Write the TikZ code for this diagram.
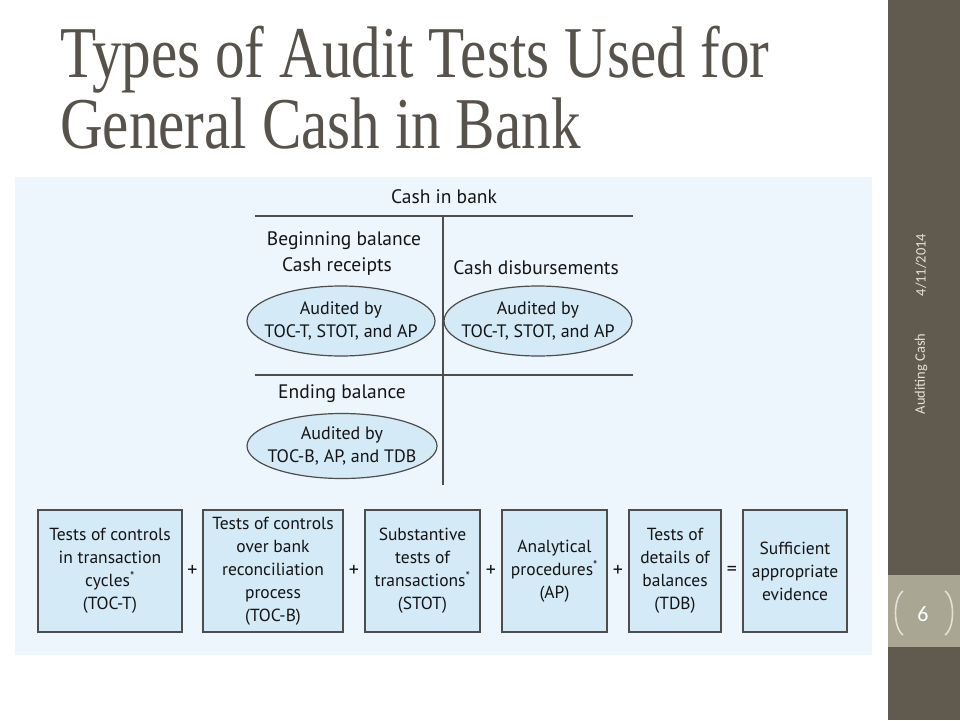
\documentclass[tikz,border=0pt]{standalone}
\usepackage{fontspec}
\setsansfont{PT Sans}
\newfontfamily\titlefont[FakeStretch=0.81]{Liberation Serif}
\newfontfamily\sidefont{Carlito}
\usetikzlibrary{shapes.geometric,positioning,calc}
\definecolor{SlideText}{HTML}{57534C}
\definecolor{SideDark}{HTML}{615B4F}
\definecolor{SideLight}{HTML}{A9A694}
\definecolor{SideInk}{HTML}{E4E0D4}
\definecolor{PanelBlue}{HTML}{EEF6FD}
\definecolor{BoxBlue}{HTML}{D4EAF6}
\definecolor{RuleGray}{HTML}{4D4D4D}
\newcommand\starmark{\textsuperscript{*}}

\begin{document}
\begin{tikzpicture}[x=1pt, y=-1pt,
  every node/.style={font=\sffamily\fontsize{17.5}{23}\selectfont, text=black!92, align=center, inner sep=0pt},
  acctlabel/.style={font=\sffamily\fontsize{19.5}{23}\selectfont},
  testbox/.style={draw=RuleGray, line width=1.4pt, fill=BoxBlue, minimum height=122pt},
  oval/.style={ellipse, font=\sffamily\fontsize{18}{23}\selectfont, draw=RuleGray, line width=1.2pt, fill=BoxBlue, inner xsep=-16pt, inner ysep=0pt, minimum width=188pt, minimum height=70pt},
  op/.style={font=\sffamily\fontsize{20}{20}\selectfont},
  tline/.style={RuleGray, line width=2pt}]
\useasboundingbox (0,0) rectangle (960,720);
\fill[white] (0,0) rectangle (960,720);
% side bar
\fill[SideDark] (888,0) rectangle (960,720);
\fill[SideLight] (888,575) rectangle (960,647);
\node[rotate=90, font=\sidefont\fontsize{14.5}{14.5}\selectfont, text=SideInk] (date) at (921,265) {4/11/2014};
\node[rotate=90, font=\sidefont\fontsize{14.5}{14.5}\selectfont, text=SideInk] (footer) at (921,374) {Auditing Cash};
\node[font=\sidefont\fontsize{22}{22}\selectfont, text=white] (pagenum) at (923,614) {6};
\draw[SideInk, line width=1.6pt] (903,591) .. controls (893,598) and (893,628) .. (903,635);
\draw[SideInk, line width=1.6pt] (945,591) .. controls (955,598) and (955,628) .. (945,635);
% title
\node[anchor=base west, font=\titlefont\fontsize{73}{71}\selectfont, text=SlideText] (title1) at (60,77) {Types of Audit Tests Used for};
\node[anchor=base west, font=\titlefont\fontsize{73}{71}\selectfont, text=SlideText] (title2) at (60,148) {General Cash in Bank};
% figure panel
\fill[PanelBlue] (15,177) rectangle (872,655);
% T-account
\node[acctlabel] (acct) at (444,197) {Cash in bank};
\draw[tline] (255,216) -- (633,216);
\draw[tline] (255,375) -- (633,375);
\draw[RuleGray, line width=1.3pt] (443,216) -- (443,485);
\node[acctlabel] (begbal) at (344,241) {Beginning balance};
\node[acctlabel] (receipts) at (337,267) {Cash receipts};
\node[acctlabel] (disburse) at (536,268) {Cash disbursements};
\node[acctlabel] (endbal) at (342,394) {Ending balance};
\node[oval] (audrec) at (341,321) {Audited by\\TOC-T, STOT, and AP};
\node[oval] (auddis) at (538,321) {Audited by\\TOC-T, STOT, and AP};
\node[oval, minimum width=190pt, minimum height=65pt] (audend) at (342,446) {Audited by\\TOC-B, AP, and TDB};
% tests
\node[testbox, minimum width=144pt] (toct) at (110,571) {Tests of controls\\in transaction\\cycles\starmark\\(TOC-T)};
\node[testbox, minimum width=140pt] (tocb) at (273,571) {Tests of controls\\over bank\\reconciliation\\process\\(TOC-B)};
\node[testbox, minimum width=115pt] (stot) at (422.5,571) {Substantive\\tests of\\transactions\starmark\\(STOT)};
\node[testbox, minimum width=105pt] (ap) at (554.5,571) {Analytical\\procedures\starmark\\(AP)};
\node[testbox, minimum width=92pt] (tdb) at (675,571) {Tests of\\details of\\balances\\(TDB)};
\node[testbox, minimum width=104pt] (evid) at (795,571) {Sufficient\\appropriate\\evidence};
\node[op] (plus1) at ($(toct.east)!0.5!(tocb.west)$) {+};
\node[op] (plus2) at ($(tocb.east)!0.5!(stot.west)$) {+};
\node[op] (plus3) at ($(stot.east)!0.5!(ap.west)$) {+};
\node[op] (plus4) at ($(ap.east)!0.5!(tdb.west)$) {+};
\node[op] (equals) at ($(tdb.east)!0.5!(evid.west)$) {=};
\end{tikzpicture}
\end{document}
